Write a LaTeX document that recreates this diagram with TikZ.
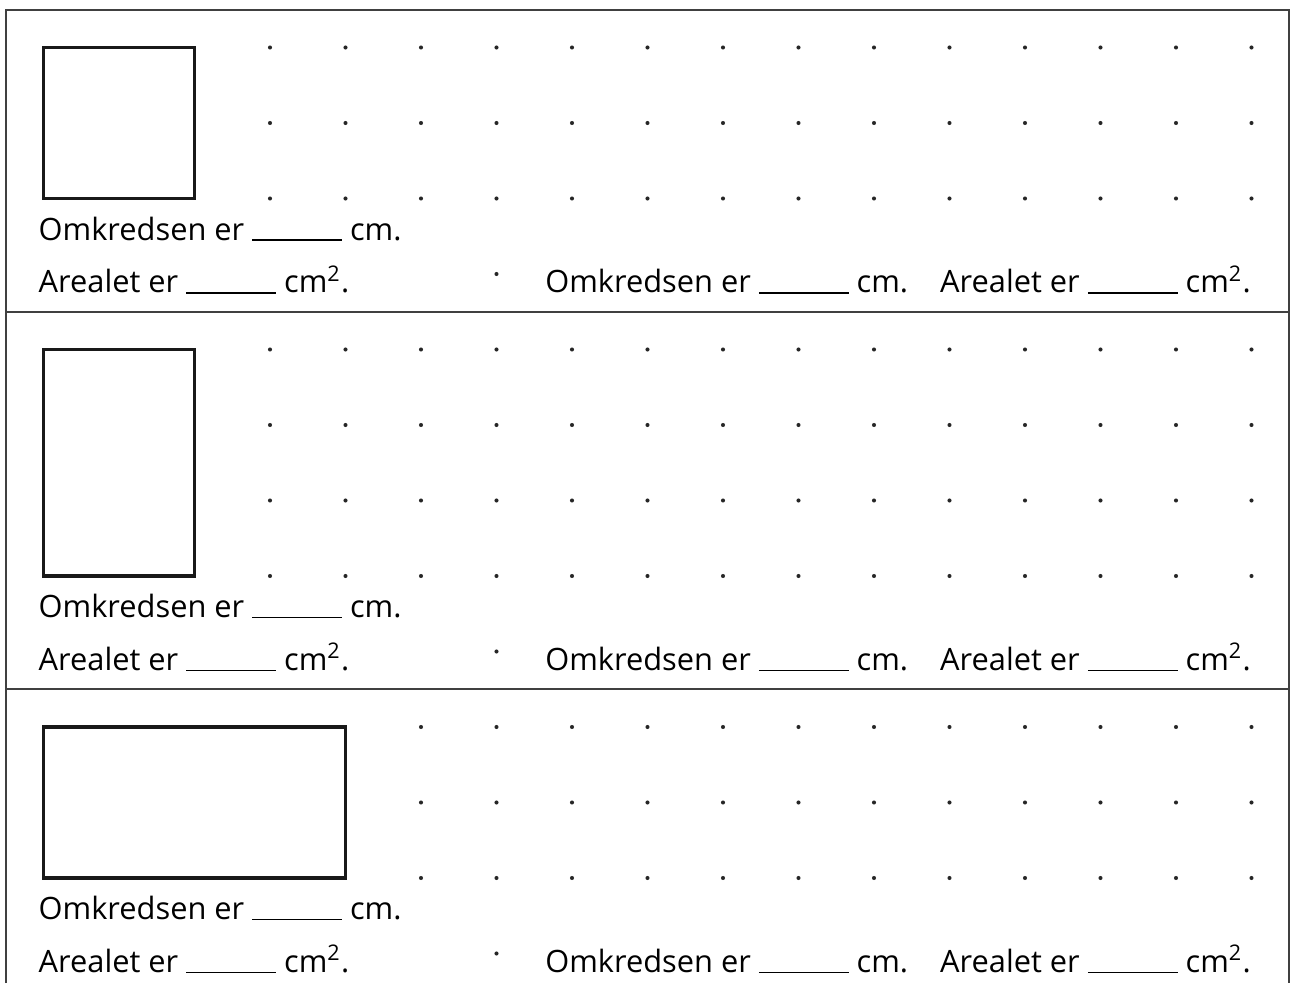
\documentclass[tikz,border=0pt]{standalone}
\usepackage{fontspec}
\setmainfont{Open Sans}
\usepackage{tikz}
\usetikzlibrary{positioning}
\tikzstyle{ramme}=
[
	draw=black!75
	,line width=0.6pt
]
\tikzstyle{figur}=
[
	draw=black!90
	,line width=1.25pt
]
\tikzstyle{prik}=
[
	fill=black!85
]
\tikzstyle{tekst}=
[
	anchor=base west
	,inner sep=0pt
	,font=\fontsize{11.6}{14}\selectfont
]
\newcommand{\streg}{\rule[-0.3pt]{1.19cm}{0.6pt}}
\newcommand{\kvcm}{cm\textsuperscript{2}.}

\begin{document}
\begin{tikzpicture}
\useasboundingbox (-3.576,0.629) rectangle (13.603,-12.391);

% ramme og skillelinjer
\draw[ramme](-3.5,-12.391)--(-3.5,0.5)--(13.5,0.5)--(13.5,-12.391);
\draw[ramme](-3.5,-3.5)--(13.5,-3.5);
\draw[ramme](-3.5,-8.5)--(13.5,-8.5);

% figurer
\draw[figur](-3,0) rectangle (-1,-2);
\draw[figur](-3,-4) rectangle (-1,-7);
\draw[figur](-3,-9) rectangle (1,-11);

% prikker
\foreach \x in {0,...,13}
	\foreach \y in {0,-1,-2}
		\fill[prik](\x,\y) circle (0.027);
\foreach \x in {0,...,13}
	\foreach \y in {-4,-5,-6,-7}
		\fill[prik](\x,\y) circle (0.027);
\foreach \x in {2,...,13}
	\foreach \y in {-9,-10,-11}
		\fill[prik](\x,\y) circle (0.027);
\fill[prik](3,-3) circle (0.027);
\fill[prik](3,-8) circle (0.027);
\fill[prik](3,-12) circle (0.027);

% tekster
\node(omk1)[tekst] at (-3.07,-2.55){Omkredsen er \streg{} cm.};
\node(are1)[tekst] at (-3.07,-3.25){Arealet er \streg{} \kvcm};
\node(omkH1)[tekst] at (3.64,-3.25){Omkredsen er \streg{} cm.};
\node(areH1)[tekst] at (8.87,-3.25){Arealet er \streg{} \kvcm};

\node(omk2)[tekst] at (-3.07,-7.55){Omkredsen er \streg{} cm.};
\node(are2)[tekst] at (-3.07,-8.25){Arealet er \streg{} \kvcm};
\node(omkH2)[tekst] at (3.64,-8.25){Omkredsen er \streg{} cm.};
\node(areH2)[tekst] at (8.87,-8.25){Arealet er \streg{} \kvcm};

\node(omk3)[tekst] at (-3.07,-11.55){Omkredsen er \streg{} cm.};
\node(are3)[tekst] at (-3.07,-12.25){Arealet er \streg{} \kvcm};
\node(omkH3)[tekst] at (3.64,-12.25){Omkredsen er \streg{} cm.};
\node(areH3)[tekst] at (8.87,-12.25){Arealet er \streg{} \kvcm};

\end{tikzpicture}
\end{document}
